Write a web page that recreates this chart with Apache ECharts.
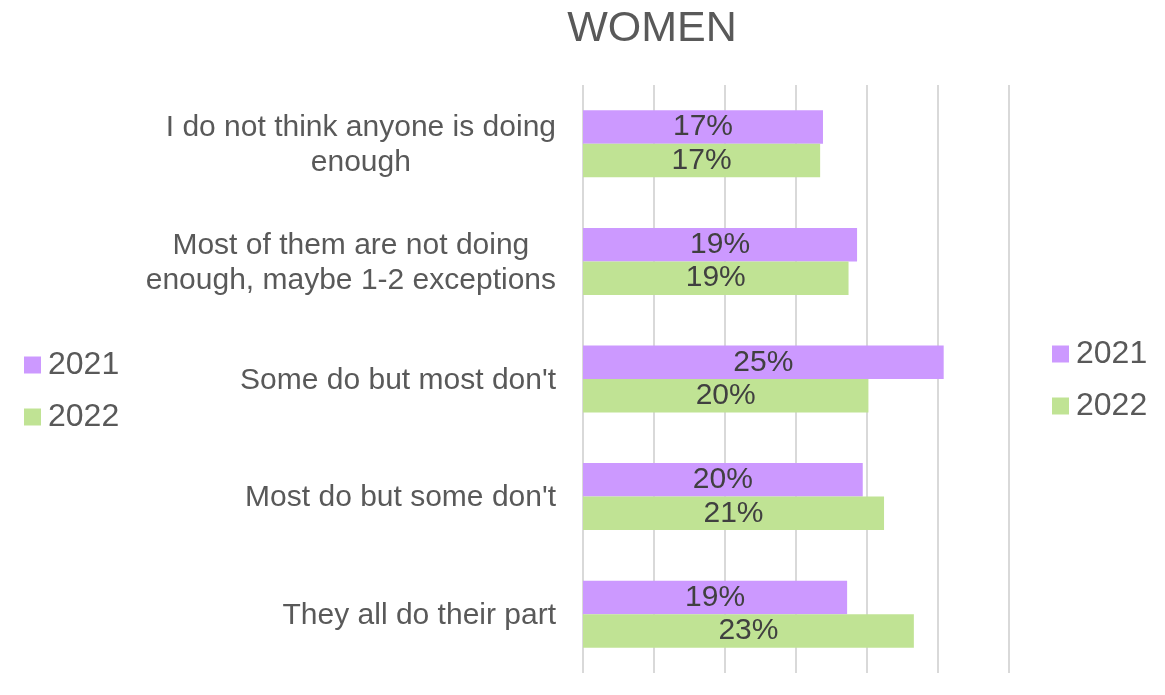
<!DOCTYPE html>
<html>
<head>
<meta charset="utf-8">
<script src="https://cdn.jsdelivr.net/npm/echarts@6/dist/echarts.min.js"></script>
<style>html,body{margin:0;padding:0;background:#fff}#c{width:1165px;height:695px}</style>
</head>
<body>
<div id="c"></div>
<script>
var categories = [
  "I do not think anyone is doing\nenough",
  "Most of them are not doing\nenough, maybe 1-2 exceptions",
  "Some do but most don't",
  "Most do but some don't",
  "They all do their part"
];
var seriesNames = ["2021", "2022"];
var values2021 = [16.9, 19.3, 25.4, 19.7, 18.6];
var values2022 = [16.7, 18.7, 20.1, 21.2, 23.3];
var labels2021 = ["17%", "19%", "25%", "20%", "19%"];
var labels2022 = ["17%", "19%", "20%", "21%", "23%"];
var xTicks = [0, 5, 10, 15, 20, 25, 30];

var FONT = "Liberation Sans";
var chart = echarts.init(document.getElementById('c'), null, {renderer: 'canvas'});
function mkLabel(arr) {
  return {
    show: true, position: 'inside', color: '#404040', fontSize: 30, fontFamily: FONT,
    formatter: function (p) { return arr[p.dataIndex]; }
  };
}
var legendBase = {
  orient: 'vertical', itemWidth: 17, itemHeight: 17, itemGap: 20, icon: 'rect',
  textStyle: {color: '#595959', fontSize: 32, fontFamily: FONT, padding: [0, 0, 0, 2]},
  data: seriesNames
};
chart.setOption({
  animation: false,
  title: {text: 'WOMEN', left: 647, top: 3, textAlign: 'center',
    textStyle: {color: '#595959', fontSize: 43, fontWeight: 'normal', fontFamily: FONT}},
  legend: [
    Object.assign({left: 19, top: 344}, legendBase),
    Object.assign({left: 1047, top: 333}, legendBase)
  ],
  grid: {left: 583, right: 156, top: 85, bottom: 22, containLabel: false},
  xAxis: {
    type: 'value', min: xTicks[0], max: xTicks[xTicks.length - 1], interval: 5,
    axisLabel: {show: false}, axisLine: {show: false}, axisTick: {show: false},
    splitLine: {show: true, lineStyle: {color: '#d9d9d9', width: 2}}
  },
  yAxis: {
    type: 'category', inverse: true, data: categories,
    axisLine: {show: false}, axisTick: {show: false},
    axisLabel: {
      margin: 27, fontFamily: FONT, fontSize: 30, color: '#595959',
      formatter: function (v) {
        return v.split('\n').map(function (s) { return '{a|' + s + '}'; }).join('\n');
      },
      rich: {a: {align: 'center', fontSize: 30, fontFamily: FONT, color: '#595959', lineHeight: 35, padding: [3, 0, 0, 0]}}
    }
  },
  series: [
    {name: seriesNames[0], type: 'bar', data: values2021, barGap: '0%', barCategoryGap: '43%',
     itemStyle: {color: '#cc99ff'}, label: mkLabel(labels2021)},
    {name: seriesNames[1], type: 'bar', data: values2022, barGap: '0%', barCategoryGap: '43%',
     itemStyle: {color: '#c0e394'}, label: mkLabel(labels2022)}
  ]
});
</script>
</body>
</html>
